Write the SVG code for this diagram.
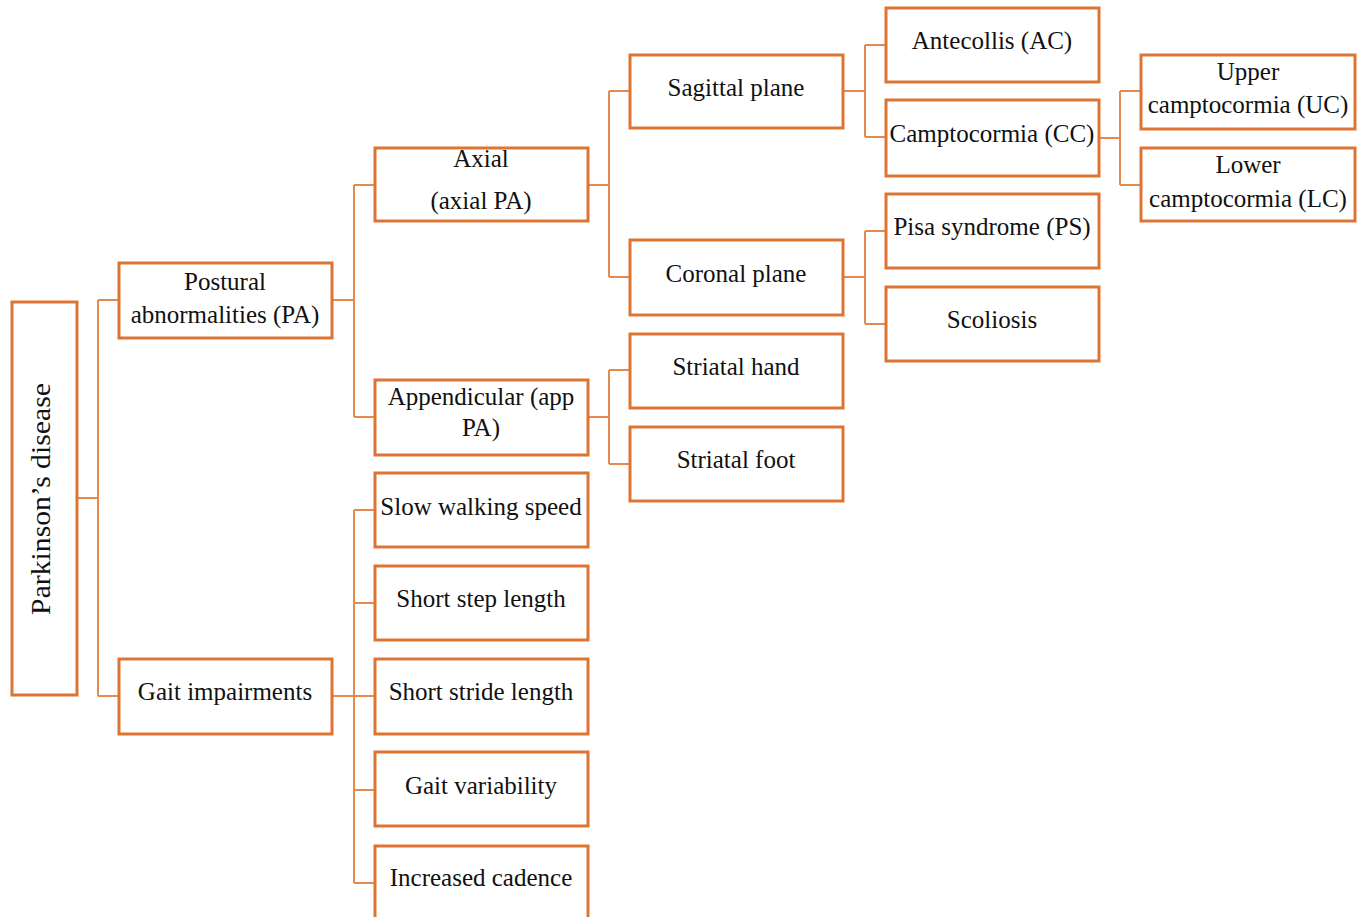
<svg xmlns="http://www.w3.org/2000/svg" width="1363" height="917" viewBox="0 0 1363 917">
<style>
.box{fill:#fff;stroke:#DE7432;stroke-width:3}
.con{fill:none;stroke:#E58A4E;stroke-width:2}
text{font-family:"Liberation Serif","Times New Roman",serif;font-size:25px;fill:#111;text-anchor:middle;dominant-baseline:central}
</style>
<rect width="1363" height="917" fill="#fff"/>
<g id="connectors">
<path class="con" d="M77,498H98M98,300V696M98,300H119M98,696H119"/>
<path class="con" d="M332,300H354M354,185V417M354,185H375M354,417H375"/>
<path class="con" d="M332,696H354M354,510V883M354,510H375M354,603H375M354,696H375M354,790H375M354,883H375"/>
<path class="con" d="M588,185H609M609,91V277M609,91H630M609,277H630"/>
<path class="con" d="M588,417H609M609,370V464M609,370H630M609,464H630"/>
<path class="con" d="M843,91H865M865,45V137M865,45H886M865,137H886"/>
<path class="con" d="M843,277H865M865,231V324M865,231H886M865,324H886"/>
<path class="con" d="M1099,138H1120M1120,91V185M1120,91H1141M1120,185H1141"/>
</g>
<g id="parkinsons"><rect class="box" x="12" y="302" width="65" height="393"/><text transform="translate(41,499) rotate(-90) scale(1.1,1)" style="font-size:27px">Parkinson’s disease</text></g>
<g id="postural"><rect class="box" x="119" y="263" width="213" height="75"/><text x="225" y="281">Postural</text><text x="225" y="314">abnormalities (PA)</text></g>
<g id="gait"><rect class="box" x="119" y="659" width="213" height="75"/><text x="225" y="691">Gait impairments</text></g>
<g id="axial"><rect class="box" x="375" y="148" width="213" height="73"/><text x="481" y="158">Axial</text><text x="481" y="200">(axial PA)</text></g>
<g id="appendicular"><rect class="box" x="375" y="380" width="213" height="75"/><text x="481" y="396">Appendicular (app</text><text x="481" y="427">PA)</text></g>
<g id="slow"><rect class="box" x="375" y="473" width="213" height="74"/><text x="481" y="506">Slow walking speed</text></g>
<g id="step"><rect class="box" x="375" y="566" width="213" height="74"/><text x="481" y="598">Short step length</text></g>
<g id="stride"><rect class="box" x="375" y="659" width="213" height="75"/><text x="481" y="691">Short stride length</text></g>
<g id="variability"><rect class="box" x="375" y="752" width="213" height="74"/><text x="481" y="785">Gait variability</text></g>
<g id="cadence"><rect class="box" x="375" y="846" width="213" height="80"/><text x="481" y="877">Increased cadence</text></g>
<g id="sagittal"><rect class="box" x="630" y="55" width="213" height="73"/><text x="736" y="87">Sagittal plane</text></g>
<g id="coronal"><rect class="box" x="630" y="240" width="213" height="75"/><text x="736" y="273">Coronal plane</text></g>
<g id="hand"><rect class="box" x="630" y="334" width="213" height="74"/><text x="736" y="366">Striatal hand</text></g>
<g id="foot"><rect class="box" x="630" y="427" width="213" height="74"/><text x="736" y="459">Striatal foot</text></g>
<g id="antecollis"><rect class="box" x="886" y="8" width="213" height="74"/><text x="992" y="40">Antecollis (AC)</text></g>
<g id="camptocormia"><rect class="box" x="886" y="100" width="213" height="76"/><text x="992" y="133">Camptocormia (CC)</text></g>
<g id="pisa"><rect class="box" x="886" y="194" width="213" height="74"/><text x="992" y="226">Pisa syndrome (PS)</text></g>
<g id="scoliosis"><rect class="box" x="886" y="287" width="213" height="74"/><text x="992" y="319">Scoliosis</text></g>
<g id="upper"><rect class="box" x="1141" y="55" width="214" height="74"/><text x="1248" y="71">Upper</text><text x="1248" y="104">camptocormia (UC)</text></g>
<g id="lower"><rect class="box" x="1141" y="148" width="214" height="73"/><text x="1248" y="164">Lower</text><text x="1248" y="198">camptocormia (LC)</text></g>
</svg>
